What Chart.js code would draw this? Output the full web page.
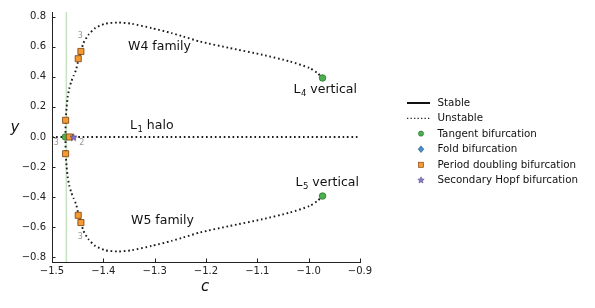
<!DOCTYPE html>
<html>
<head>
<meta charset="utf-8">
<script src="https://cdn.jsdelivr.net/npm/chart.js@4/dist/chart.umd.min.js"></script>
<style>
html,body{margin:0;padding:0;background:#fff;}
canvas{display:block;}
</style>
</head>
<body>
<canvas id="c" width="595" height="308"></canvas>
<script>
// ---- data ----
const w4C = [-1.4738,-1.4733,-1.4715,-1.4692,-1.4665,-1.4628,-1.4582,-1.4533,-1.4483,-1.4386,-1.4289,-1.4159,-1.3965,-1.3707,-1.3447,-1.3058,-1.267,-1.245,-1.212,-1.154,-1.090,-1.037,-0.998,-0.983,-0.973];
const w4Y = [0.0,0.11,0.20,0.27,0.32,0.365,0.405,0.445,0.513,0.624,0.679,0.723,0.752,0.760,0.752,0.723,0.690,0.668,0.634,0.591,0.546,0.502,0.458,0.425,0.392];
const w5C = w4C.slice();
const w5Y = [-0.0,-0.11,-0.20,-0.27,-0.32,-0.365,-0.405,-0.445,-0.513,-0.624,-0.679,-0.723,-0.752,-0.760,-0.752,-0.723,-0.690,-0.668,-0.634,-0.591,-0.546,-0.502,-0.458,-0.425,-0.392];
const haloC = [-1.5,-0.9];
const haloY = [0,0];
const refC = [-1.472,-1.472];
const refY = [-0.83,0.83];
const tangentC = [-1.474,-0.973,-0.973];
const tangentY = [0.0,0.392,-0.392];
const pdC = [-1.4735,-1.4735,-1.4489,-1.4437,-1.4489,-1.4437,-1.466];
const pdY = [0.111,-0.111,0.52,0.568,-0.52,-0.568,0.0];
const hopfC = [-1.458];
const hopfY = [0.0];
const foldC = [];
const foldY = [];
const xTicks = [-1.5,-1.4,-1.3,-1.2,-1.1,-1.0,-0.9];
const yTicks = [-0.8,-0.6,-0.4,-0.2,0.0,0.2,0.4,0.6,0.8];
const legendLabels = ['Stable','Unstable','Tangent bifurcation','Fold bifurcation','Period doubling bifurcation','Secondary Hopf bifurcation'];
const smallLabels = [{t:'3',c:-1.445,y:0.67},{t:'3',c:-1.445,y:-0.665},{t:'3',c:-1.4917,y:-0.04},{t:'2',c:-1.4418,y:-0.04}];
const annotations = [
  {main:'W4 family', c:-1.3518, y:0.599},
  {main:'L', sub:'1', rest:' halo', c:-1.348, y:0.072},
  {main:'L', sub:'4', rest:' vertical', c:-1.0295, y:0.312},
  {main:'L', sub:'5', rest:' vertical', c:-1.0256, y:-0.304},
  {main:'W5 family', c:-1.346, y:-0.556}
];

const FONT = "'DejaVu Sans', sans-serif";
const GREEN = '#4caf50', GREEN_E = '#1f6b22';
const ORANGE = '#f39a33', ORANGE_E = '#7a3d08';
const PURPLE = '#8a78c8', PURPLE_E = '#4a3a80';
const BLUE = '#4a8cd0', BLUE_E = '#1d4f80';

function pts(xs, ys){ return xs.map((x,i)=>({x:x, y:ys[i]})); }
function fmt(v){ let s = Math.abs(v) < 1e-9 ? '0.0' : v.toFixed(1); return s.replace('-', '\u2212'); }

function starPath(ctx, cx, cy, R){
  const r = R*0.45;
  ctx.beginPath();
  for(let i=0;i<10;i++){
    const a = -Math.PI/2 + i*Math.PI/5;
    const rr = i%2===0 ? R : r;
    const px = cx + rr*Math.cos(a), py = cy + rr*Math.sin(a);
    if(i===0) ctx.moveTo(px,py); else ctx.lineTo(px,py);
  }
  ctx.closePath();
}
function makeStar(size){
  const cv = document.createElement('canvas');
  cv.width = size; cv.height = size;
  const ctx = cv.getContext('2d');
  starPath(ctx, size/2, size/2+0.5, size/2-0.8);
  ctx.fillStyle = PURPLE; ctx.fill();
  ctx.lineWidth = 0.7; ctx.strokeStyle = PURPLE_E; ctx.stroke();
  return cv;
}
const starImg = makeStar(9);

const DOT = [1.6, 2.8];

const overlay = {
  id: 'overlay',
  afterDraw(chart){
    const ctx = chart.ctx;
    const xs = chart.scales.x, ys = chart.scales.y;
    const a = chart.chartArea;
    ctx.save();
    // inward ticks
    ctx.strokeStyle = '#222'; ctx.lineWidth = 1;
    xTicks.forEach(v=>{
      const px = Math.round(xs.getPixelForValue(v))+0.5;
      ctx.beginPath(); ctx.moveTo(px, a.bottom); ctx.lineTo(px, a.bottom-3.5); ctx.stroke();
    });
    yTicks.forEach(v=>{
      const py = Math.round(ys.getPixelForValue(v))+0.5;
      ctx.beginPath(); ctx.moveTo(a.left, py); ctx.lineTo(a.left+3.5, py); ctx.stroke();
    });
    // axis titles
    ctx.fillStyle = '#111';
    ctx.font = 'italic 15px ' + FONT;
    ctx.textAlign = 'center'; ctx.textBaseline = 'middle';
    ctx.fillText('y', 15, 128);
    ctx.fillText('c', 205, 287);
    // small grey labels
    ctx.font = '8px ' + FONT; ctx.fillStyle = '#999';
    smallLabels.forEach(l=>{
      ctx.fillText(l.t, xs.getPixelForValue(l.c), ys.getPixelForValue(l.y));
    });
    // annotations
    ctx.textAlign = 'left'; ctx.textBaseline = 'middle'; ctx.fillStyle = '#111';
    annotations.forEach(an=>{
      let x = xs.getPixelForValue(an.c), y = ys.getPixelForValue(an.y);
      ctx.font = '12.5px ' + FONT;
      ctx.fillText(an.main, x, y);
      x += ctx.measureText(an.main).width;
      if(an.sub){
        ctx.font = '8.5px ' + FONT;
        ctx.fillText(an.sub, x+0.5, y+4);
        x += ctx.measureText(an.sub).width + 0.5;
        ctx.font = '12.5px ' + FONT;
        ctx.fillText(an.rest, x, y);
      }
    });
    // legend
    const lx0 = 407, lx1 = 430, mx = 421, tx = 437.5;
    const rowsY = [103, 118.3, 133.6, 149.2, 164.8, 180.2];
    ctx.font = '10.3px ' + FONT; ctx.fillStyle = '#111';
    legendLabels.forEach((lab,i)=>{
      const y = rowsY[i];
      ctx.save();
      if(i===0){
        ctx.strokeStyle='#111'; ctx.lineWidth=2; ctx.setLineDash([]);
        ctx.beginPath(); ctx.moveTo(lx0,y); ctx.lineTo(lx1,y); ctx.stroke();
      } else if(i===1){
        ctx.strokeStyle='#222'; ctx.lineWidth=1.3; ctx.setLineDash([1.3,2.2]);
        ctx.beginPath(); ctx.moveTo(lx0,y); ctx.lineTo(lx1,y); ctx.stroke();
      } else if(i===2){
        ctx.fillStyle=GREEN; ctx.strokeStyle=GREEN_E; ctx.lineWidth=0.6;
        ctx.beginPath(); ctx.arc(mx,y,2.6,0,Math.PI*2); ctx.fill(); ctx.stroke();
      } else if(i===3){
        ctx.fillStyle=BLUE; ctx.strokeStyle=BLUE_E; ctx.lineWidth=0.6;
        ctx.beginPath(); ctx.moveTo(mx,y-3.3); ctx.lineTo(mx+2.8,y); ctx.lineTo(mx,y+3.3); ctx.lineTo(mx-2.8,y); ctx.closePath(); ctx.fill(); ctx.stroke();
      } else if(i===4){
        ctx.fillStyle=ORANGE; ctx.strokeStyle=ORANGE_E; ctx.lineWidth=0.6;
        ctx.fillRect(mx-2.6,y-2.6,5.2,5.2); ctx.strokeRect(mx-2.6,y-2.6,5.2,5.2);
      } else {
        starPath(ctx, mx, y, 3.4);
        ctx.fillStyle=PURPLE; ctx.fill(); ctx.strokeStyle=PURPLE_E; ctx.lineWidth=0.5; ctx.stroke();
      }
      ctx.restore();
      ctx.fillText(lab, tx, y+0.5);
    });
    ctx.restore();
  }
};

const lineDS = (label, xs, ys, color, width, dash, order) => ({
  label, data: pts(xs, ys), showLine: true, borderColor: color, borderWidth: width,
  borderDash: dash, pointRadius: 0, fill: false, tension: 0.2, order
});

new Chart(document.getElementById('c'), {
  type: 'scatter',
  data: {
    datasets: [
      { label: 'Secondary Hopf bifurcation', data: pts(hopfC, hopfY), pointStyle: starImg, pointRadius: 4.5, order: 0 },
      { label: 'Period doubling bifurcation', data: pts(pdC, pdY), pointStyle: 'rect', pointRadius: 4.3, backgroundColor: ORANGE, borderColor: ORANGE_E, borderWidth: 0.8, order: 1 },
      { label: 'Tangent bifurcation', data: pts(tangentC, tangentY), pointStyle: 'circle', pointRadius: 3.3, backgroundColor: GREEN, borderColor: GREEN_E, borderWidth: 0.7, order: 2 },
      { label: 'Fold bifurcation', data: pts(foldC, foldY), pointStyle: 'rectRot', pointRadius: 4, backgroundColor: BLUE, borderColor: BLUE_E, order: 3 },
      lineDS('W4 family', w4C, w4Y, '#1a1a1a', 1.9, DOT, 5),
      lineDS('W5 family', w5C, w5Y, '#1a1a1a', 1.9, DOT, 6),
      lineDS('L1 halo', haloC, haloY, '#1a1a1a', 1.9, DOT, 7),
      lineDS('reference', refC, refY, 'rgba(150,205,140,0.55)', 1.5, [], 9)
    ]
  },
  options: {
    responsive: false,
    animation: false,
    devicePixelRatio: 1,
    layout: { padding: { left: 0, right: 235, top: 12, bottom: 0 } },
    plugins: { legend: { display: false }, tooltip: { enabled: false } },
    scales: {
      x: {
        type: 'linear', min: -1.5, max: -0.9,
        afterFit(s){ s.height = 46; },
        afterBuildTicks(s){ s.ticks = xTicks.map(v=>({value:v})); },
        ticks: { font: { family: FONT, size: 10 }, color: '#222', padding: 3, maxRotation: 0, autoSkip: false, callback: v => fmt(v) },
        grid: { drawOnChartArea: false, drawTicks: false },
        border: { display: true, color: '#222', width: 1 }
      },
      y: {
        type: 'linear', min: -0.83, max: 0.83,
        afterFit(s){ s.width = 52; },
        afterBuildTicks(s){ s.ticks = yTicks.map(v=>({value:v})); },
        ticks: { font: { family: FONT, size: 10 }, color: '#222', padding: 6, autoSkip: false, callback: v => fmt(v) },
        grid: { drawOnChartArea: false, drawTicks: false },
        border: { display: true, color: '#222', width: 1 }
      }
    }
  },
  plugins: [overlay]
});
</script>
</body>
</html>
